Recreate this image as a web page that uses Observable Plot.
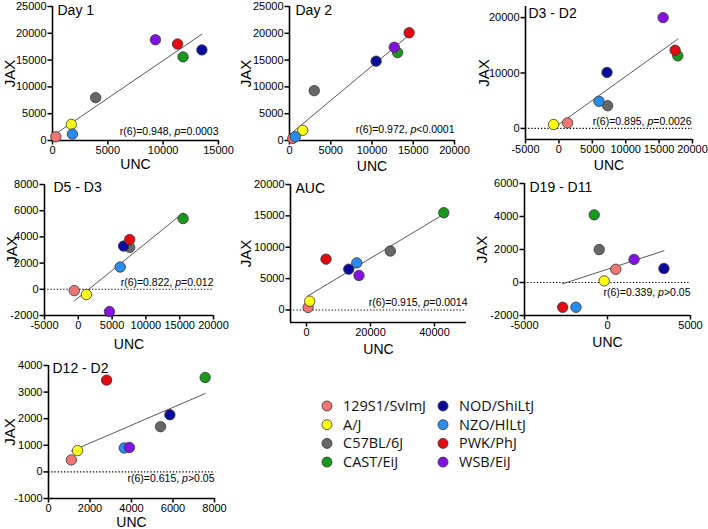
<!DOCTYPE html>
<html><head><meta charset="utf-8">
<script src="https://cdn.jsdelivr.net/npm/d3@7"></script>
<script src="https://cdn.jsdelivr.net/npm/@observablehq/plot@0.6"></script>
<style>
body{margin:0;background:#fff;}
#wrap{position:relative;width:708px;height:529px;overflow:hidden;background:#fff;font-family:"Liberation Sans",Arial,sans-serif;}
.panel{position:absolute;}
.panel svg{overflow:visible;display:block;}
#legend{position:absolute;left:300px;top:390px;}
</style></head><body><div id="wrap"></div>
<script>
// ---- data ----
const strains = ["129S1/SvImJ","A/J","C57BL/6J","CAST/EiJ","NOD/ShiLtJ","NZO/HlLtJ","PWK/PhJ","WSB/EiJ"];
const strainColors = ["#f07575","#ffff14","#676767","#18981c","#0a0a9c","#2a8cf0","#e50a0f","#8312e0"];

const day1UNC = [300,1700,3900,11800,13500,1800,11300,9300];
const day1JAX = [700,3000,8000,15600,16900,1200,18000,18800];
const day2UNC = [400,1600,3000,13100,10500,700,14500,12700];
const day2JAX = [400,1900,9300,16400,14800,700,20100,17400];
const d3d2UNC = [1300,-800,7300,17800,7200,6000,17400,15600];
const d3d2JAX = [1000,700,4100,13100,10100,4900,14100,20000];
const d5d3UNC = [-600,1200,7600,15500,6700,6200,7600,4600];
const d5d3JAX = [-100,-400,3200,5400,3300,1700,3800,-1700];
const aucUNC  = [500,1000,26200,42900,13200,15700,6100,16400];
const aucJAX  = [400,1400,9400,15500,6500,7500,8100,5500];
const d19d11UNC = [500,-200,-500,-800,3400,-1900,-2700,1600];
const d19d11JAX = [800,100,2000,4100,850,-1500,-1500,1400];
const d12d2UNC = [1100,1400,5400,7550,5850,3650,2800,3900];
const d12d2JAX = [450,800,1700,3550,2150,900,3450,920];

const panelTitles = ["Day 1","Day 2","D3 - D2","D5 - D3","AUC","D19 - D11","D12 - D2"];
const statLabels = ["r(6)=0.948, p=0.0003","r(6)=0.972, p<0.0001","r(6)=0.895, p=0.0026","r(6)=0.822, p=0.012","r(6)=0.915, p=0.0014","r(6)=0.339, p>0.05","r(6)=0.615, p>0.05"];

const ticksX = [
  [0,5000,10000,15000],
  [0,5000,10000,15000,20000],
  [-5000,0,5000,10000,15000,20000],
  [-5000,0,5000,10000,15000,20000],
  [0,20000,40000],
  [-5000,0,5000],
  [0,2000,4000,6000,8000]
];
const ticksY = [
  [0,5000,10000,15000,20000,25000],
  [0,5000,10000,15000,20000,25000],
  [0,10000,20000],
  [-2000,0,2000,4000,6000,8000],
  [0,5000,10000,15000,20000],
  [-2000,0,2000,4000,6000],
  [-1000,0,1000,2000,3000,4000]
];
const domainsX = [[0,15000],[0,20000],[-5000,20000],[-5000,20000],[-5000,50000],[-5000,5000],[0,8000]];
const domainsY = [[0,25000],[0,25000],[-2000,22000],[-2000,8000],[-2000,20000],[-2000,6000],[-1000,4000]];
const seriesUNC = [day1UNC,day2UNC,d3d2UNC,d5d3UNC,aucUNC,d19d11UNC,d12d2UNC];
const seriesJAX = [day1JAX,day2JAX,d3d2JAX,d5d3JAX,aucJAX,d19d11JAX,d12d2JAX];

// ---- layout (positions & styles) ----
const layout = [
  {left:0,   top:0,   w:236, h:175, m:[6,18,35,52],  zero:false, tdx:5, tdy:4,  sdx:0, sdy:-9,  jdx:-42, udy:24},
  {left:236, top:0,   w:236, h:175, m:[6,18,35,53],  zero:false, tdx:6, tdy:4,  sdx:0, sdy:-11, jdx:-43, udy:26},
  {left:472, top:0,   w:236, h:175, m:[6,16,36,53],  zero:true,  tdx:3, tdy:7,  sdx:-1,sdy:-18, jdx:-41, udy:26},
  {left:0,   top:175, w:236, h:175, m:[9,23,35,44],  zero:true,  tdx:9, tdy:3,  sdx:0, sdy:-33, jdx:-32, udy:29},
  {left:236, top:175, w:236, h:175, m:[9,6,28,54],   zero:true,  tdx:5, tdy:4,  sdx:1, sdy:-20, jdx:-44, udy:27},
  {left:472, top:175, w:236, h:175, m:[8,18,35,52],  zero:true,  tdx:5, tdy:4,  sdx:0, sdy:-23, jdx:-42, udy:27},
  {left:0,   top:350, w:236, h:179, m:[15,22,31,48], zero:true,  tdx:4, tdy:3,  sdx:0, sdy:-20, jdx:-38, udy:24}
];

const wrap = document.getElementById("wrap");
const fmt = d => String(d);

layout.forEach((L, i) => {
  const data = strains.map((s, k) => ({strain: s, u: seriesUNC[i][k], j: seriesJAX[i][k]}));
  const marks = [];
  if (L.zero) marks.push(Plot.ruleY([0], {stroke:"#000", strokeWidth:1.1, strokeDasharray:"1.3,1.9"}));
  marks.push(Plot.linearRegressionY(data, {x:"u", y:"j", stroke:"#444", strokeWidth:0.9, ci:0}));
  marks.push(Plot.axisX({ticks: ticksX[i], tickFormat: fmt, tickSize:4.5, tickPadding:1.5, fontSize:11, strokeWidth:1.5, label:null}));
  marks.push(Plot.axisY({ticks: ticksY[i], tickFormat: fmt, tickSize:4.5, tickPadding:1.5, fontSize:11, strokeWidth:1.5, label:null}));
  marks.push(Plot.ruleX([domainsX[i][0]], {stroke:"#000", strokeWidth:1.6}));
  marks.push(Plot.ruleY([domainsY[i][0]], {stroke:"#000", strokeWidth:1.6}));
  marks.push(Plot.dot(data, {x:"u", y:"j", r:5.2, fill:"strain", stroke:"#333", strokeWidth:0.8}));
  marks.push(Plot.text([panelTitles[i]], {frameAnchor:"top-left", textAnchor:"start", lineAnchor:"middle", dx:L.tdx, dy:L.tdy, fontSize:14}));
  marks.push(Plot.text([statLabels[i]], {frameAnchor:"bottom-right", textAnchor:"end", lineAnchor:"middle", dx:L.sdx, dy:L.sdy, fontSize:10.5}));
  marks.push(Plot.text(["JAX"], {frameAnchor:"left", rotate:-90, dx:L.jdx, textAnchor:"middle", lineAnchor:"middle", fontSize:15}));
  marks.push(Plot.text(["UNC"], {frameAnchor:"bottom", dy:L.udy, lineAnchor:"middle", fontSize:14}));

  const svg = Plot.plot({
    width: L.w, height: L.h,
    marginTop: L.m[0], marginRight: L.m[1], marginBottom: L.m[2], marginLeft: L.m[3],
    inset: 0,
    x: {domain: domainsX[i], axis: null},
    y: {domain: domainsY[i], axis: null},
    color: {domain: strains, range: strainColors},
    style: {fontFamily: "'Liberation Sans', Arial, sans-serif", fontSize: "11px", color: "#000", background: "transparent", overflow: "visible"},
    marks
  });
  // italicise the "p" in the stats label
  d3.select(svg).selectAll("text").filter(function(){ return this.textContent.startsWith("r(6)"); }).each(function(){
    const t = this.textContent;
    const m = t.match(/^(.*, )(p)(.*)$/);
    if (!m) return;
    const el = d3.select(this);
    el.text(null);
    el.append("tspan").text(m[1]);
    el.append("tspan").attr("font-style","italic").text(m[2]);
    el.append("tspan").text(m[3]);
  });
  const div = document.createElement("div");
  div.className = "panel";
  div.style.left = L.left + "px";
  div.style.top = L.top + "px";
  div.appendChild(svg);
  wrap.appendChild(div);
});

// ---- legend ----
const leg = d3.select(wrap).append("svg").attr("id","legend").attr("width",380).attr("height",90);
strains.forEach((s, k) => {
  const col = Math.floor(k / 4), row = k % 4;
  const g = leg.append("g").attr("transform", `translate(${27 + col*116},${16 + row*18.7})`);
  g.append("circle").attr("r",5).attr("fill",strainColors[k]).attr("stroke","#333").attr("stroke-width",0.8);
  g.append("text").attr("x",16).attr("dy","0.35em").attr("font-family","'Open Sans', sans-serif").attr("font-size",14.5).attr("fill","#111").text(s);
});
</script></body></html>
